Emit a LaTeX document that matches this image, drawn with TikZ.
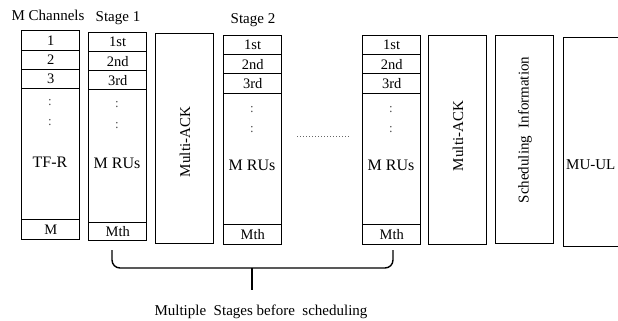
\documentclass[tikz,border=0pt]{standalone}
\usepackage{fontspec}
\setmainfont{Liberation Serif}
\begin{document}
\begin{tikzpicture}[x=1pt,y=-1pt,
  txt/.style={font=\fontsize{15}{17}\selectfont, inner sep=0pt},
  big/.style={font=\fontsize{16}{18}\selectfont, inner sep=0pt},
  cell/.style={draw, line width=1.4pt, inner sep=0pt, minimum width=58pt, anchor=north west, font=\fontsize{14.5}{16}\selectfont},
  tallbox/.style={draw, line width=1.4pt, inner sep=0pt, anchor=north west, minimum width=58pt},
  dots/.style={font=\fontsize{13}{15}\selectfont, inner sep=0pt, text=black!70}]
\clip (0,0) rectangle (618,321);
\fill[white] (0,0) rectangle (618,321);
% labels
\node[txt] (lch) at (48,15) {M Channels};
\node[txt] (ls1) at (118,18) {Stage 1};
\node[txt] (ls2) at (253,20) {Stage 2};
% column 1
\node[cell, minimum height=20pt] (c1a) at (21,30) {1};
\node[cell, minimum height=19pt] (c1b) at (21,50) {2};
\node[cell, minimum height=19pt] (c1c) at (21,69) {3};
\node[cell, minimum height=131pt] (c1d) at (21,88) {};
\node[cell, minimum height=20pt] (c1e) at (21,219) {M};
\node[big] (c1t) at (50,162) {TF-R};
\node[dots] (c1p) at (50,103) {:};
\node[dots] (c1q) at (50,123) {:};
% column 2
\node[cell, minimum height=19pt] (c2a) at (88,32) {1st};
\node[cell, minimum height=19pt] (c2b) at (88,51) {2nd};
\node[cell, minimum height=19pt] (c2c) at (88,70) {3rd};
\node[cell, minimum height=133pt] (c2d) at (88,89) {};
\node[cell, minimum height=18pt] (c2e) at (88,222) {Mth};
\node[big] (c2t) at (117,163) {M RUs};
\node[dots] (c2p) at (117,105) {:};
\node[dots] (c2q) at (117,126) {:};
% multi-ack 1
\node[tallbox, minimum height=210pt] (ack1) at (155,33) {};
\node[txt, rotate=90] (ack1t) at (185,142) {Multi-ACK};
% column 3
\node[cell, minimum height=19pt] (c3a) at (223,35) {1st};
\node[cell, minimum height=19pt] (c3b) at (223,54) {2nd};
\node[cell, minimum height=20pt] (c3c) at (223,73) {3rd};
\node[cell, minimum height=131pt] (c3d) at (223,93) {};
\node[cell, minimum height=20pt] (c3e) at (223,224) {Mth};
\node[big] (c3t) at (252,165) {M RUs};
\node[dots] (c3p) at (252,110) {:};
\node[dots] (c3q) at (252,130) {:};
% dotted gap
\coordinate (g1) at (297,136);
\coordinate (g2) at (350,136);
\draw[line width=0.9pt, dash pattern=on 1pt off 2pt, black!60] (g1) -- (g2);
% column 4
\node[cell, minimum height=19pt] (c4a) at (362,35) {1st};
\node[cell, minimum height=19pt] (c4b) at (362,54) {2nd};
\node[cell, minimum height=20pt] (c4c) at (362,73) {3rd};
\node[cell, minimum height=131pt] (c4d) at (362,93) {};
\node[cell, minimum height=20pt] (c4e) at (362,224) {Mth};
\node[big] (c4t) at (391,165) {M RUs};
\node[dots] (c4p) at (391,110) {:};
\node[dots] (c4q) at (391,130) {:};
% multi-ack 2
\node[tallbox, minimum height=209pt] (ack2) at (428,35) {};
\node[txt, rotate=90] (ack2t) at (458,136) {Multi-ACK};
% scheduling information
\node[tallbox, minimum height=208pt] (sch) at (495,35) {};
\node[txt, rotate=90] (scht) at (525,130) {Scheduling\ \ Information};
% MU-UL
\node[tallbox, minimum width=80pt, minimum height=209pt] (mu) at (563,37) {};
\node[txt, anchor=west] (mut) at (566,165) {MU-UL};
% brace
\coordinate (bl) at (112,250);
\coordinate (br) at (393,250);
\coordinate (bm) at (252,268);
\coordinate (bt) at (252,290);
\draw[line width=1.4pt, rounded corners=8pt] (bl) -- (112,268) -- (393,268) -- (br);
\draw[line width=1.4pt] (bm) -- (bt);
\node[txt] (cap) at (261,312) {Multiple\ \ Stages before\ \ scheduling};
\end{tikzpicture}
\end{document}
